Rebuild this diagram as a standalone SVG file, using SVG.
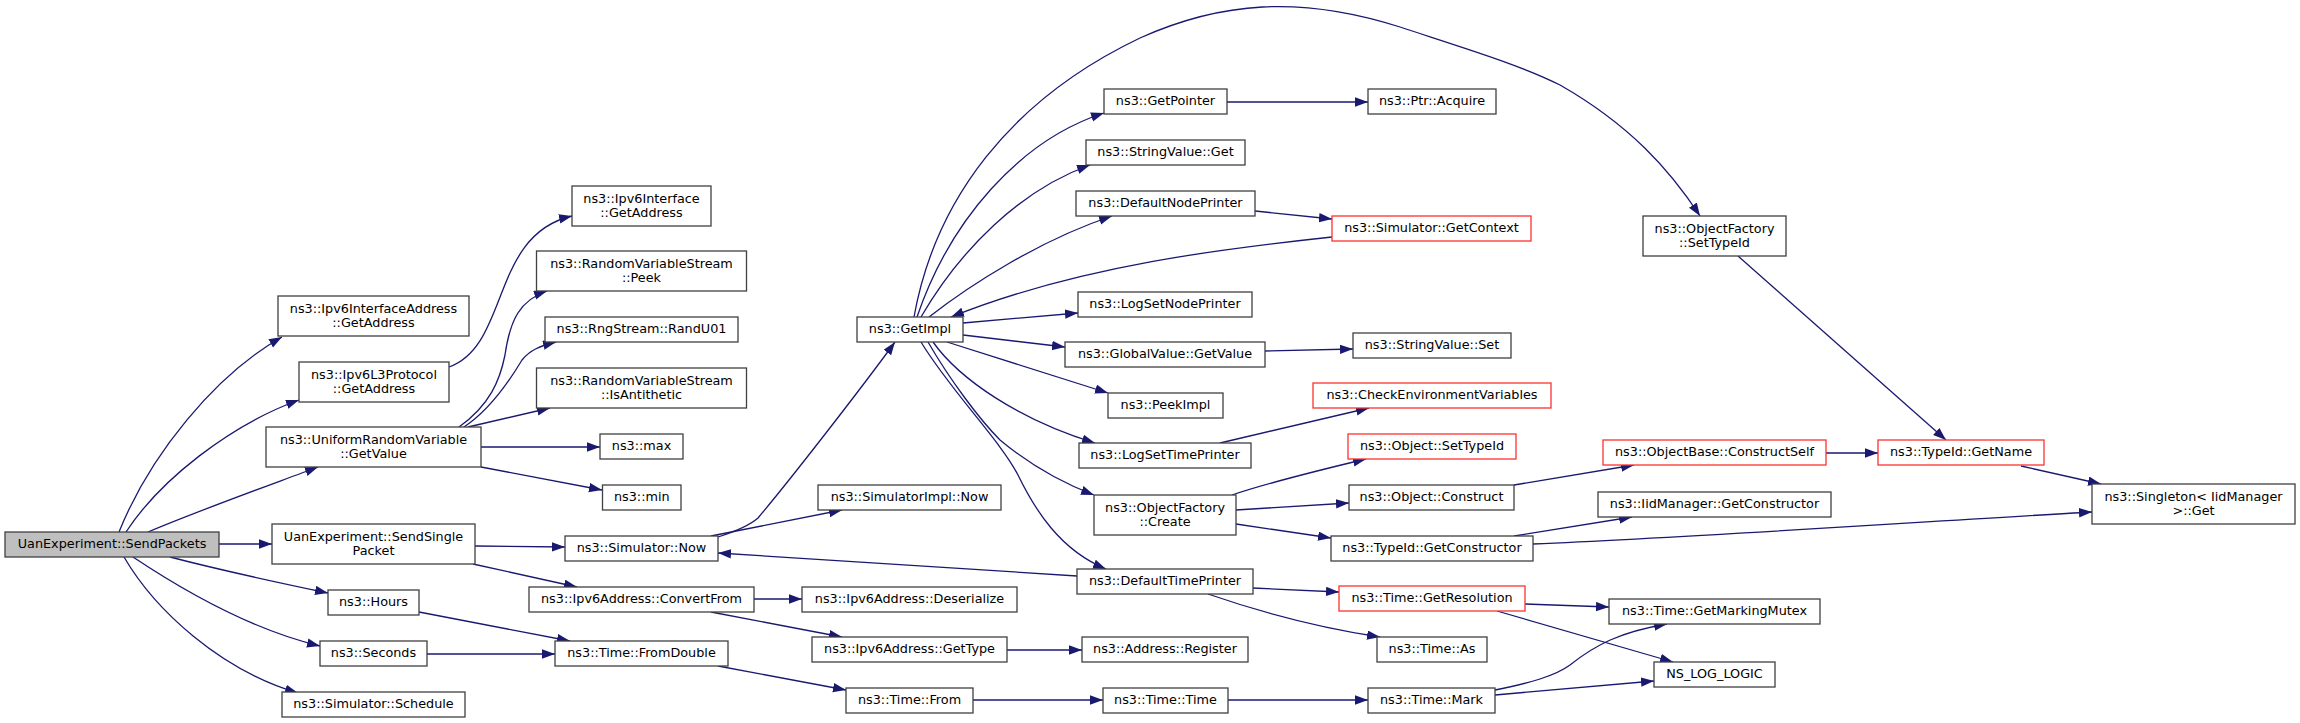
<svg xmlns="http://www.w3.org/2000/svg" width="2300" height="723" viewBox="0 0 2300 723">
<style>
.n rect{fill:#fff;stroke:#404040;stroke-width:1.3}
.r rect{stroke:#ff3030}
.root rect{fill:#bfbfbf;stroke:#404040}
text{font-family:"DejaVu Sans","Liberation Sans",sans-serif;font-size:12.8px;text-anchor:middle;fill:#000}
#edges path{fill:none;stroke:#191970;stroke-width:1.3;marker-end:url(#a)}
</style>
<defs>
<marker id="a" markerUnits="userSpaceOnUse" markerWidth="14" markerHeight="10" refX="13" refY="4.7" orient="auto">
<path d="M0,0 L13,4.7 L0,9.4 z" fill="#191970"/>
</marker>
</defs>
<rect width="2300" height="723" fill="#fff"/>
<g id="edges">
<path d="M119,532 C150,455 215,375 282,337"/>
<path d="M126,532 C160,480 230,425 299,400"/>
<path d="M148,532 C200,510 270,485 318,467"/>
<path d="M219,544 L272,544"/>
<path d="M170,557 C220,570 280,583 328,593"/>
<path d="M133,557 C175,585 245,628 320,646"/>
<path d="M124,557 C155,610 220,670 298,693"/>
<path d="M449,367 C510,345 490,235 572,216"/>
<path d="M459,427 C490,405 500,380 505,355 C510,320 520,300 547,291"/>
<path d="M464,427 C490,410 510,380 522,360 C530,350 540,346 556,342"/>
<path d="M468,427 L550,408"/>
<path d="M481,447 L600,447"/>
<path d="M481,467 L602,490"/>
<path d="M475,546 L565,547"/>
<path d="M473,564 L577,587"/>
<path d="M419,612 L570,641"/>
<path d="M427,654 L555,654"/>
<path d="M718,537 C740,530 750,525 758,518 C790,480 860,390 895,342"/>
<path d="M711,536 L842,510"/>
<path d="M754,599 L802,599"/>
<path d="M711,612 L842,637"/>
<path d="M718,666 L846,690"/>
<path d="M1007,650 L1082,650"/>
<path d="M973,700 L1103,700"/>
<path d="M1228,700 L1368,700"/>
<path d="M1495,690 C1530,683 1555,676 1570,665 C1595,645 1620,632 1667,624"/>
<path d="M1495,695 L1654,681"/>
<path d="M1525,604 L1609,607"/>
<path d="M1497,611 L1673,662"/>
<path d="M1253,588 L1339,592"/>
<path d="M1208,594 C1260,612 1320,628 1380,637"/>
<path d="M1077,576 L718,553"/>
<path d="M921,342 C950,390 1000,440 1018,475 C1035,510 1060,550 1106,569"/>
<path d="M928,342 C950,380 980,420 1000,440 C1030,465 1060,482 1094,495"/>
<path d="M933,342 C960,380 1020,420 1095,443"/>
<path d="M947,342 L1108,393"/>
<path d="M963,335 L1065,347"/>
<path d="M963,323 L1078,313"/>
<path d="M1332,237 C1230,248 1080,265 951,317"/>
<path d="M929,317 C970,285 1040,240 1112,216"/>
<path d="M921,317 C960,250 1020,190 1090,165"/>
<path d="M917,317 C950,220 1020,140 1104,113"/>
<path d="M914,317 C935,200 1010,100 1140,38 C1220,2 1300,-5 1400,27 C1470,50 1520,65 1560,85 C1630,125 1670,170 1700,216"/>
<path d="M1255,211 L1332,219"/>
<path d="M1227,102 L1368,102"/>
<path d="M1265,351 L1353,349"/>
<path d="M1220,443 L1369,408"/>
<path d="M1232,495 C1270,482 1320,470 1366,459"/>
<path d="M1236,510 L1349,503"/>
<path d="M1236,524 L1331,538"/>
<path d="M1514,485 L1634,465"/>
<path d="M1514,536 L1632,517"/>
<path d="M1533,544 C1700,537 1950,520 2092,512"/>
<path d="M1826,453 L1878,453"/>
<path d="M1738,256 L1946,440"/>
<path d="M2021,466 L2101,484"/>
</g>
<g id="n1" class="n root"><rect x="5" y="532" width="214" height="25"/><text x="112" y="548">UanExperiment::SendPackets</text></g>
<g id="n2" class="n"><rect x="278" y="296" width="191" height="40"/><text x="373.5" y="313">ns3::Ipv6InterfaceAddress</text><text x="373.5" y="327">::GetAddress</text></g>
<g id="n3" class="n"><rect x="299" y="362" width="150" height="40"/><text x="374" y="379">ns3::Ipv6L3Protocol</text><text x="374" y="393">::GetAddress</text></g>
<g id="n4" class="n"><rect x="266" y="427" width="215" height="40"/><text x="373.5" y="444">ns3::UniformRandomVariable</text><text x="373.5" y="458">::GetValue</text></g>
<g id="n5" class="n"><rect x="272" y="524" width="203" height="40"/><text x="373.5" y="541">UanExperiment::SendSingle</text><text x="373.5" y="555">Packet</text></g>
<g id="n6" class="n"><rect x="328" y="590" width="91" height="25"/><text x="373.5" y="606">ns3::Hours</text></g>
<g id="n7" class="n"><rect x="320" y="641" width="107" height="25"/><text x="373.5" y="657">ns3::Seconds</text></g>
<g id="n8" class="n"><rect x="282" y="692" width="183" height="25"/><text x="373.5" y="708">ns3::Simulator::Schedule</text></g>
<g id="n9" class="n"><rect x="572" y="186" width="139" height="40"/><text x="641.5" y="203">ns3::Ipv6Interface</text><text x="641.5" y="217">::GetAddress</text></g>
<g id="n10" class="n"><rect x="536.5" y="251" width="210" height="40"/><text x="641.5" y="268">ns3::RandomVariableStream</text><text x="641.5" y="282">::Peek</text></g>
<g id="n11" class="n"><rect x="545" y="317" width="193" height="25"/><text x="641.5" y="333">ns3::RngStream::RandU01</text></g>
<g id="n12" class="n"><rect x="536.5" y="368" width="210" height="40"/><text x="641.5" y="385">ns3::RandomVariableStream</text><text x="641.5" y="399">::IsAntithetic</text></g>
<g id="n13" class="n"><rect x="600" y="434" width="83" height="25"/><text x="641.5" y="450">ns3::max</text></g>
<g id="n14" class="n"><rect x="602.5" y="485" width="78.5" height="25"/><text x="641.75" y="501">ns3::min</text></g>
<g id="n15" class="n"><rect x="565" y="536" width="153" height="25"/><text x="641.5" y="552">ns3::Simulator::Now</text></g>
<g id="n16" class="n"><rect x="529" y="587" width="225" height="25"/><text x="641.5" y="603">ns3::Ipv6Address::ConvertFrom</text></g>
<g id="n17" class="n"><rect x="555" y="641" width="173" height="25"/><text x="641.5" y="657">ns3::Time::FromDouble</text></g>
<g id="n18" class="n"><rect x="857" y="317" width="106" height="25"/><text x="910" y="333">ns3::GetImpl</text></g>
<g id="n19" class="n"><rect x="818" y="485" width="183" height="25"/><text x="909.5" y="501">ns3::SimulatorImpl::Now</text></g>
<g id="n20" class="n"><rect x="802" y="587" width="215" height="25"/><text x="909.5" y="603">ns3::Ipv6Address::Deserialize</text></g>
<g id="n21" class="n"><rect x="812" y="637" width="195" height="25"/><text x="909.5" y="653">ns3::Ipv6Address::GetType</text></g>
<g id="n22" class="n"><rect x="846" y="688" width="127" height="25"/><text x="909.5" y="704">ns3::Time::From</text></g>
<g id="n23" class="n"><rect x="1104" y="89" width="123" height="25"/><text x="1165.5" y="105">ns3::GetPointer</text></g>
<g id="n24" class="n"><rect x="1086" y="140" width="159" height="25"/><text x="1165.5" y="156">ns3::StringValue::Get</text></g>
<g id="n25" class="n"><rect x="1076" y="191" width="179" height="25"/><text x="1165.5" y="207">ns3::DefaultNodePrinter</text></g>
<g id="n26" class="n"><rect x="1078" y="292" width="174" height="25"/><text x="1165" y="308">ns3::LogSetNodePrinter</text></g>
<g id="n27" class="n"><rect x="1065" y="342" width="200" height="25"/><text x="1165" y="358">ns3::GlobalValue::GetValue</text></g>
<g id="n28" class="n"><rect x="1108" y="393" width="115" height="25"/><text x="1165.5" y="409">ns3::PeekImpl</text></g>
<g id="n29" class="n"><rect x="1079" y="443" width="172" height="25"/><text x="1165" y="459">ns3::LogSetTimePrinter</text></g>
<g id="n30" class="n"><rect x="1094" y="495" width="142" height="40"/><text x="1165" y="512">ns3::ObjectFactory</text><text x="1165" y="526">::Create</text></g>
<g id="n31" class="n"><rect x="1077" y="569" width="176" height="25"/><text x="1165" y="585">ns3::DefaultTimePrinter</text></g>
<g id="n32" class="n"><rect x="1082" y="637" width="166" height="25"/><text x="1165" y="653">ns3::Address::Register</text></g>
<g id="n33" class="n"><rect x="1103" y="688" width="125" height="25"/><text x="1165.5" y="704">ns3::Time::Time</text></g>
<g id="n34" class="n"><rect x="1368" y="89" width="128" height="25"/><text x="1432" y="105">ns3::Ptr::Acquire</text></g>
<g id="n35" class="n r"><rect x="1332" y="216" width="199" height="25"/><text x="1431.5" y="232">ns3::Simulator::GetContext</text></g>
<g id="n36" class="n"><rect x="1353" y="333" width="158" height="25"/><text x="1432" y="349">ns3::StringValue::Set</text></g>
<g id="n37" class="n r"><rect x="1313" y="383" width="238" height="25"/><text x="1432" y="399">ns3::CheckEnvironmentVariables</text></g>
<g id="n38" class="n r"><rect x="1348" y="434" width="168" height="25"/><text x="1432" y="450">ns3::Object::SetTypeId</text></g>
<g id="n39" class="n"><rect x="1349" y="485" width="165" height="25"/><text x="1431.5" y="501">ns3::Object::Construct</text></g>
<g id="n40" class="n"><rect x="1331" y="536" width="202" height="25"/><text x="1432" y="552">ns3::TypeId::GetConstructor</text></g>
<g id="n41" class="n r"><rect x="1339" y="586" width="186" height="25"/><text x="1432" y="602">ns3::Time::GetResolution</text></g>
<g id="n42" class="n"><rect x="1377" y="637" width="110" height="25"/><text x="1432" y="653">ns3::Time::As</text></g>
<g id="n43" class="n"><rect x="1368" y="688" width="127" height="25"/><text x="1431.5" y="704">ns3::Time::Mark</text></g>
<g id="n44" class="n"><rect x="1643" y="216" width="143" height="40"/><text x="1714.5" y="233">ns3::ObjectFactory</text><text x="1714.5" y="247">::SetTypeId</text></g>
<g id="n45" class="n r"><rect x="1603" y="440" width="223" height="25"/><text x="1714.5" y="456">ns3::ObjectBase::ConstructSelf</text></g>
<g id="n46" class="n"><rect x="1598" y="492" width="233" height="25"/><text x="1714.5" y="508">ns3::IidManager::GetConstructor</text></g>
<g id="n47" class="n"><rect x="1609" y="599" width="211" height="25"/><text x="1714.5" y="615">ns3::Time::GetMarkingMutex</text></g>
<g id="n48" class="n"><rect x="1654" y="662" width="121" height="25"/><text x="1714.5" y="678">NS_LOG_LOGIC</text></g>
<g id="n49" class="n r"><rect x="1878" y="440" width="166" height="25"/><text x="1961" y="456">ns3::TypeId::GetName</text></g>
<g id="n50" class="n"><rect x="2092" y="484" width="203" height="40"/><text x="2193.5" y="501">ns3::Singleton&lt; IidManager</text><text x="2193.5" y="515">&gt;::Get</text></g>
</svg>
